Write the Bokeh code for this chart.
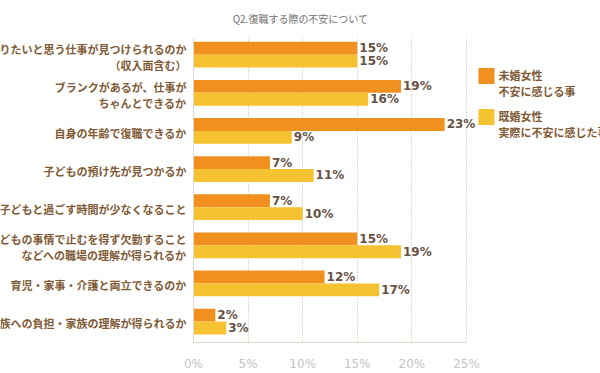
from bokeh.plotting import figure
from bokeh.models import Range1d, Span, FixedTicker, PrintfTickFormatter, ColumnDataSource
from bokeh.core.properties import value
from bokeh.embed import file_html
from bokeh.resources import INLINE

# ---- data ----
categories = [
    "やりたいと思う仕事が見つけられるのか\n（収入面含む）",
    "ブランクがあるが、仕事が\nちゃんとできるか",
    "自身の年齢で復職できるか",
    "子どもの預け先が見つかるか",
    "子どもと過ごす時間が少なくなること",
    "子どもの事情で止むを得ず欠勤すること\nなどへの職場の理解が得られるか",
    "育児・家事・介護と両立できるのか",
    "家族への負担・家族の理解が得られるか",
]
unmarried = [15, 19, 23, 7, 7, 15, 12, 2]
married = [15, 16, 9, 11, 10, 19, 17, 3]
series_names = ["未婚女性\n不安に感じる事", "既婚女性\n実際に不安に感じた事"]
x_ticks = [0, 5, 10, 15, 20, 25]
title = "Q2.復職する際の不安について"

# ---- layout ----
W, H = 600, 373
FT, FB = 37, 346          # frame top/bottom (canvas px)
X0, X25 = 193, 466        # canvas px of 0% and 25%
N = len(categories)
ppp = (X25 - X0) / 25.0


def px_x(px):
    return (px - X0) / ppp


def px_y(py):
    return (py - FT) / (FB - FT) * N


ORANGE = "#F0901F"
YELLOW = "#F5C232"
BROWN = "#7f5a35"
VAL = "#665244"

p = figure(width=W, height=H, output_backend="svg", toolbar_location=None,
           x_range=Range1d(px_x(0), px_x(W)), y_range=Range1d(N, 0),
           y_axis_location=None, min_border_left=0, min_border_right=0,
           min_border_top=FT, min_border_bottom=H - FB)
p.outline_line_color = None
p.background_fill_color = "white"
p.ygrid.visible = False

BAR_H = 0.337
SHIFT = -0.05
idx = list(range(N))
y_o = [i + 0.5 + SHIFT - BAR_H / 2 for i in idx]
y_y = [i + 0.5 + SHIFT + BAR_H / 2 for i in idx]
src = ColumnDataSource(dict(yo=y_o, yy=y_y, o=unmarried, m=married,
                            to=[f"{v}%" for v in unmarried],
                            tm=[f"{v}%" for v in married],
                            yc=[i + 0.5 for i in idx], cat=categories,
                            x0=[0] * N))

p.hbar(y="yo", right="o", left=0, height=BAR_H, source=src, fill_color=ORANGE, line_color=None)
p.hbar(y="yy", right="m", left=0, height=BAR_H, source=src, fill_color=YELLOW, line_color=None)

vfont = dict(text_font=value("DejaVu Sans"), text_font_style="bold", text_font_size="12px",
             text_color=VAL, text_baseline="middle", x_offset=2)
p.text(x="o", y="yo", text="to", source=src, **vfont)
p.text(x="m", y="yy", text="tm", source=src, **vfont)

p.text(x="x0", y="yc", text="cat", source=src, x_offset=-7, text_align="right",
       text_baseline="middle", text_font=value("Noto Sans CJK JP"), text_font_style="bold",
       text_font_size="11px", text_color=BROWN, text_line_height=1.0)

# left axis line
p.add_layout(Span(location=0, dimension="height", line_color="#e2d6ca", line_width=1))

# x axis and grid
p.xaxis.ticker = FixedTicker(ticks=x_ticks)
p.xaxis.bounds = (0, 25)
p.xaxis.formatter = PrintfTickFormatter(format="%d%%")
p.xaxis.axis_line_color = "#e2d6ca"
p.xaxis.major_tick_line_color = None
p.xaxis.minor_tick_line_color = None
p.xaxis.major_label_text_font = "DejaVu Sans"
p.xaxis.major_label_text_font_size = "12px"
p.xaxis.major_label_text_color = "#c4c4c4"
p.xaxis.major_label_standoff = 8
p.xgrid.ticker = FixedTicker(ticks=x_ticks[1:])
p.xgrid.grid_line_color = "#c4b6ab"
p.xgrid.grid_line_dash = "1 2"

# legend (manual)
leg_x = 486
leg_ys = [76, 117.5]
for name, col, ly in zip(series_names, [ORANGE, YELLOW], leg_ys):
    p.scatter(x=[px_x(leg_x)], y=[px_y(ly)], marker="square", size=16,
              fill_color=col, line_color=None)
    p.text(x=[px_x(leg_x + 12)], y=[px_y(ly + 7.5)], text=[name], text_baseline="middle",
           text_font=value("Noto Sans CJK JP"), text_font_style="bold",
           text_font_size="11px", text_color=BROWN, text_line_height=1.0)

p.title.text = title
p.title.align = "center"
p.title.text_font = "Noto Sans CJK JP"
p.title.text_font_size = "10px"
p.title.text_font_style = "normal"
p.title.text_color = "#707070"
p.title.vertical_align = "top"
p.title.standoff = 20

open("out.html", "w").write(file_html(p, INLINE))
